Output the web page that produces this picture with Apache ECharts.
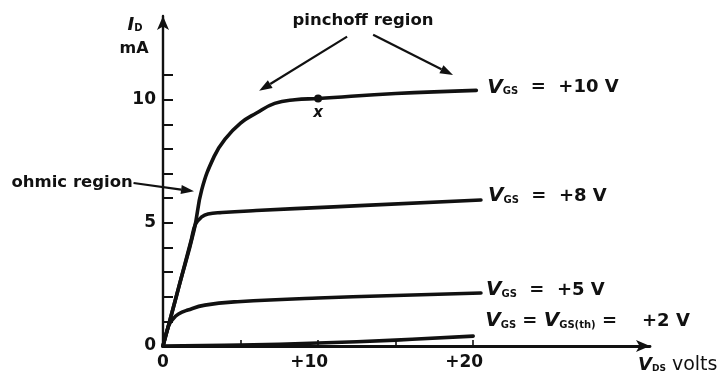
<!DOCTYPE html>
<html>
<head>
<meta charset="utf-8">
<script src="https://cdn.jsdelivr.net/npm/echarts@6/dist/echarts.min.js"></script>
<style>
  html, body { margin: 0; padding: 0; background: #fff; }
  #chart { width: 726px; height: 373px; }
</style>
</head>
<body>
<div id="chart"></div>
<script>
// Drain characteristics: drain current I_D (mA) versus drain-source voltage V_DS (volts)

// V_GS = +10 V
const vds10 = [0, 1, 2, 2.5, 3.3, 4, 5, 6, 7.2, 8.5, 10, 15, 20.2];
const id10  = [0, 2.35, 4.7, 6.35, 7.7, 8.4, 9.05, 9.45, 9.85, 10.0, 10.05, 10.25, 10.38];

// V_GS = +8 V
const vds8 = [0, 1, 1.8, 2.1, 2.5, 2.9, 3.8, 6, 11, 20.5];
const id8  = [0, 2.35, 4.25, 4.95, 5.24, 5.36, 5.42, 5.5, 5.65, 5.93];

// V_GS = +5 V
const vds5 = [0, 0.35, 0.65, 1, 1.6, 2.7, 4.8, 10, 20.5];
const id5  = [0, 0.8, 1.1, 1.3, 1.46, 1.66, 1.8, 1.95, 2.15];

// V_GS = V_GS(th) = +2 V
const vds2 = [0, 5, 10, 15, 20];
const id2  = [0, 0.04, 0.12, 0.24, 0.4];

// Operating point marked "x"
const qPoint = [10, 10.05];

// Axis ticks and labels
const xTickValues = [5, 10, 15, 20];
const xLabelValues = [0, 10, 20];
const xLabelTexts = ['0', '+10', '+20'];
const yTickValues = [1, 2, 3, 4, 5, 6, 7, 8, 9, 10, 11];
const yLabelValues = [0, 5, 10];
const yLabelTexts = ['0', '5', '10'];

const X_MAX = 31.4;
const Y_MAX = 13.4;

const INK = '#111';
const FONT = 'DejaVu Sans';

function pairs(xs, ys) { return xs.map((x, i) => [x, ys[i]]); }

const rich = {
  v: { fontFamily: FONT, fontStyle: 'italic', fontWeight: 'bold', fontSize: 20, color: INK },
  s: { fontFamily: FONT, fontWeight: 'bold', fontSize: 10, color: INK, padding: [9, 0, 0, 0] },
  t: { fontFamily: FONT, fontWeight: 'bold', fontSize: 18, color: INK }
};

function curve(name, xs, ys, text, offset) {
  return {
    type: 'line',
    name: name,
    data: pairs(xs, ys),
    smooth: 0.45,
    symbol: 'none',
    clip: false,
    lineStyle: { color: INK, width: 3.6, cap: 'round', join: 'round' },
    endLabel: {
      show: true,
      formatter: text,
      distance: 0,
      offset: offset,
      rich: rich
    },
    labelLayout: { hideOverlap: false },
    emphasis: { disabled: true },
    animation: false
  };
}

const chart = echarts.init(document.getElementById('chart'), null, { renderer: 'canvas' });

chart.setOption({
  backgroundColor: '#fff',
  animation: false,
  grid: { left: 163, right: 76, top: 16, bottom: 27, outerBoundsMode: 'none' },
  xAxis: {
    type: 'value',
    min: 0,
    max: X_MAX,
    splitLine: { show: false },
    axisLine: {
      show: true, onZero: false,
      symbol: ['none', 'arrow'], symbolSize: [9, 14],
      lineStyle: { color: INK, width: 2.8 }
    },
    axisTick: {
      show: true, inside: true, length: 6,
      customValues: xTickValues,
      lineStyle: { color: INK, width: 1.6 }
    },
    axisLabel: {
      show: true,
      customValues: xLabelValues,
      margin: 8,
      formatter: v => {
        const t = xLabelTexts[xLabelValues.indexOf(v)];
        return t.length > 1 ? '{a|' + t + '}{g|}' : '{a|' + t + '}';
      },
      rich: {
        a: { fontFamily: FONT, fontWeight: 'bold', fontSize: 17, color: INK },
        g: { width: 18 }
      }
    }
  },
  yAxis: {
    type: 'value',
    min: 0,
    max: Y_MAX,
    splitLine: { show: false },
    axisLine: {
      show: true, onZero: false,
      symbol: ['none', 'arrow'], symbolSize: [9, 14],
      lineStyle: { color: INK, width: 2.4 }
    },
    axisTick: {
      show: true, inside: true, length: 10,
      customValues: yTickValues,
      lineStyle: { color: INK, width: 2 }
    },
    axisLabel: {
      show: true,
      customValues: yLabelValues,
      margin: 7,
      formatter: v => yLabelTexts[yLabelValues.indexOf(v)],
      fontFamily: FONT, fontWeight: 'bold', fontSize: 17, color: INK
    }
  },
  series: [
    curve('Vgs2', vds2, id2, '{v|V}{s|GS}{t| = }{v|V}{s|GS(th)}{t| =    +2 V}', [12, -15]),
    curve('Vgs5', vds5, id5, '{v|V}{s|GS}{t|  =  +5 V}', [5, -3]),
    curve('Vgs8', vds8, id8, '{v|V}{s|GS}{t|  =  +8 V}', [7, -4]),
    curve('Vgs10', vds10, id10, '{v|V}{s|GS}{t|  =  +10 V}', [11, -3]),
    {
      type: 'scatter',
      data: [qPoint],
      symbol: 'circle',
      symbolSize: 8,
      itemStyle: { color: INK, opacity: 1 },
      label: {
        show: true, position: 'bottom', distance: 3,
        formatter: 'x',
        fontFamily: FONT, fontStyle: 'italic', fontWeight: 'bold', fontSize: 15, color: INK
      },
      emphasis: { disabled: true },
      z: 5
    }
  ]
});

// Annotations placed in data coordinates and converted to pixels
function px(p) { return chart.convertToPixel({ gridIndex: 0 }, p); }

function arrow(from, to) {
  const a = px(from), b = px(to);
  const dx = b[0] - a[0], dy = b[1] - a[1];
  const len = Math.hypot(dx, dy);
  const ux = dx / len, uy = dy / len;
  const headL = 13, headW = 4.5;
  const bx = b[0] - ux * headL, by = b[1] - uy * headL;
  return [
    {
      type: 'line',
      shape: { x1: a[0], y1: a[1], x2: bx, y2: by },
      style: { stroke: INK, lineWidth: 2.2 },
      silent: true
    },
    {
      type: 'polygon',
      shape: { points: [[b[0], b[1]], [bx - uy * headW, by + ux * headW], [bx + uy * headW, by - ux * headW]] },
      style: { fill: INK },
      silent: true
    }
  ];
}

function text(at, str, opts) {
  const p = px(at);
  return {
    type: 'text',
    x: p[0] + (opts.dx || 0),
    y: p[1] + (opts.dy || 0),
    silent: true,
    style: Object.assign({
      text: str,
      fill: INK,
      font: 'bold 16.5px "' + FONT + '"',
      align: 'center',
      verticalAlign: 'middle'
    }, opts.style || {})
  };
}

const graphics = []
  .concat(arrow([11.87, 12.56], [6.2, 10.36]))
  .concat(arrow([13.55, 12.64], [18.7, 11.0]))
  .concat(arrow([-1.9, 6.62], [2.0, 6.28]))
  .concat([
    text([12.9, 13.2], 'pinchoff region', {}),
    text([-1.95, 6.63], 'ohmic region', { style: { align: 'right' } }),
    text([0, Y_MAX], '', {
      dx: -28, dy: 9,
      style: {
        text: '{i|I}{d|D}',
        rich: {
          i: { font: 'italic bold 18px "' + FONT + '"', fill: INK },
          d: { font: 'bold 10px "' + FONT + '"', fill: INK, padding: [7, 0, 0, 0] }
        }
      }
    }),
    text([0, Y_MAX], 'mA', { dx: -29, dy: 33, style: { font: 'bold 16px "' + FONT + '"' } }),
    text([X_MAX, 0], '', {
      dx: -12, dy: 19,
      style: {
        align: 'left',
        text: '{v|V}{d|DS}{u| volts}',
        rich: {
          v: { font: 'italic bold 18px "' + FONT + '"', fill: INK },
          d: { font: 'bold 9px "' + FONT + '"', fill: INK, padding: [7, 0, 0, 0] },
          u: { font: '19px "' + FONT + '"', fill: INK }
        }
      }
    })
  ]);

chart.setOption({ graphic: { elements: graphics } });
</script>
</body>
</html>
